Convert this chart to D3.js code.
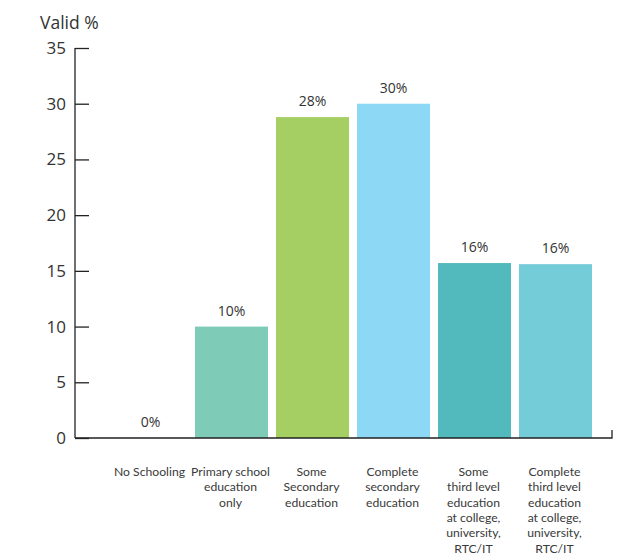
<!DOCTYPE html>
<html><head><meta charset="utf-8">
<script src="https://cdn.jsdelivr.net/npm/d3@7"></script>
<style>
html,body{margin:0;padding:0;background:#fff;}
svg{display:block;font-family:"Open Sans","DejaVu Sans",sans-serif;}
</style></head>
<body><svg id="chart" width="620" height="558"></svg>
<script>
const categories = [
  ["No Schooling"],
  ["Primary school","education","only"],
  ["Some","Secondary","education"],
  ["Complete","secondary","education"],
  ["Some","third level","education","at college,","university,","RTC/IT"],
  ["Complete","third level","education","at college,","university,","RTC/IT"]
];
const values = [0, 10.0, 28.8, 30.0, 15.7, 15.6];
const valueLabels = ["0%","10%","28%","30%","16%","16%"];
const colors = ["#7ecbb7","#7ecbb7","#a5cf63","#8dd9f5","#52b9bc","#74ccd9"];
const yTicks = [0,5,10,15,20,25,30,35];
const yTitle = "Valid %";

const svg = d3.select("#chart");
const x0 = 75, x1 = 612, yTop = 48, yBase = 438;

const y = d3.scaleLinear().domain([0,35]).range([yBase, yTop]);
const x = d3.scaleBand().domain(d3.range(categories.length)).range([114, 592]).paddingInner(8/81).paddingOuter(0);

// bars
svg.append("g").selectAll("rect").data(values).join("rect")
  .attr("x",(d,i)=>x(i)).attr("width",x.bandwidth())
  .attr("y",d=>y(d)).attr("height",d=>yBase-y(d))
  .attr("fill",(d,i)=>colors[i]);

// value labels
svg.append("g").selectAll("text").data(values).join("text")
  .attr("x",(d,i)=>x(i)+x.bandwidth()/2)
  .attr("y",d=>y(d)-11)
  .attr("text-anchor","middle")
  .attr("font-size",14).attr("fill","#333")
  .text((d,i)=>valueLabels[i]);

// y axis
const yAxis = d3.axisRight(y).tickValues(yTicks).tickSize(14).tickFormat(d3.format("d"));
const gy = svg.append("g").attr("transform",`translate(${x0},0)`).call(yAxis);
gy.select(".domain").remove();
gy.selectAll(".tick line").attr("stroke","#222").attr("stroke-width",1.3);
gy.selectAll(".tick text").attr("x",-9).attr("text-anchor","end")
  .attr("font-size",17).attr("fill","#333").attr("font-family","Open Sans, DejaVu Sans, sans-serif");
svg.append("line").attr("x1",x0).attr("x2",x0).attr("y1",yTop).attr("y2",yBase)
  .attr("stroke","#222").attr("stroke-width",1.3);

// x axis line
svg.append("path").attr("d",`M${x0},${yBase}H${x1}V${yBase-8}`)
  .attr("fill","none").attr("stroke","#222").attr("stroke-width",1.3);

// category labels
const gx = svg.append("g");
categories.forEach((lines,i)=>{
  const cx = x(i)+x.bandwidth()/2 - 1;
  lines.forEach((l,j)=>{
    gx.append("text").attr("text-anchor","middle")
      .attr("font-family","Lato, 'Open Sans', sans-serif")
      .attr("font-size",12.2).attr("fill","#3a3a3a")
      .attr("x",cx).attr("y",476 + j*15.3).text(l);
  });
});

// title
svg.append("text").attr("x",40).attr("y",29).attr("font-size",17.5).attr("fill","#333").text(yTitle);
</script>
</body></html>
